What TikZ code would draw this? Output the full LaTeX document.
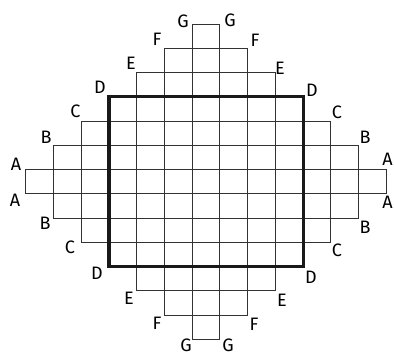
\documentclass[tikz,border=0pt]{standalone}
\usepackage{fontspec}
\setmainfont{Fira Sans}
\begin{document}
\begin{tikzpicture}[x=1pt,y=-1pt,
  cell/.style={draw=black!80,line width=0.9pt},
  bold/.style={draw=black!90,line width=3.2pt,line cap=rect},
  lab/.style={font=\fontsize{18}{18}\selectfont,inner sep=0pt,anchor=center}]
\useasboundingbox (0,0) rectangle (394,355);
\def\xo{25.7}\def\yo{24}\def\dx{27.74}\def\dy{24.25}
\foreach \r in {0,...,12}{
  \pgfmathtruncatemacro\h{6-abs(\r-6)}
  \pgfmathtruncatemacro\lo{6-\h}
  \pgfmathtruncatemacro\hi{6+\h}
  \foreach \c in {\lo,...,\hi}{
    \draw[cell] ({\xo+\c*\dx},{\yo+\r*\dy}) rectangle ({\xo+(\c+1)*\dx},{\yo+(\r+1)*\dy});
  }
}
\draw[bold] ({\xo+3*\dx},{\yo+3*\dy}) rectangle ({\xo+10*\dx},{\yo+10*\dy});
% top-left
\node[lab] (tlG) at (183,21) {G};
\node[lab] (tlF) at (157,39) {F};
\node[lab] (tlE) at (131,63) {E};
\node[lab] (tlD) at (100,87) {D};
\node[lab] (tlC) at (75.5,111) {C};
\node[lab] (tlB) at (46,137) {B};
\node[lab] (tlA) at (16,164) {A};
% top-right
\node[lab] (trG) at (230,20) {G};
\node[lab] (trF) at (255,40) {F};
\node[lab] (trE) at (280,68) {E};
\node[lab] (trD) at (312,90) {D};
\node[lab] (trC) at (337,112) {C};
\node[lab] (trB) at (365,137) {B};
\node[lab] (trA) at (387.5,159) {A};
% bottom-left
\node[lab] (blA) at (15,200) {A};
\node[lab] (blB) at (45,223) {B};
\node[lab] (blC) at (70,247) {C};
\node[lab] (blD) at (97,273) {D};
\node[lab] (blE) at (129,298) {E};
\node[lab] (blF) at (157,323) {F};
\node[lab] (blG) at (186,345.5) {G};
% bottom-right
\node[lab] (brA) at (387.5,202) {A};
\node[lab] (brB) at (365,227) {B};
\node[lab] (brC) at (337,250) {C};
\node[lab] (brD) at (311,277) {D};
\node[lab] (brE) at (282,300) {E};
\node[lab] (brF) at (254,324) {F};
\node[lab] (brG) at (228,345.5) {G};
\end{tikzpicture}
\end{document}
